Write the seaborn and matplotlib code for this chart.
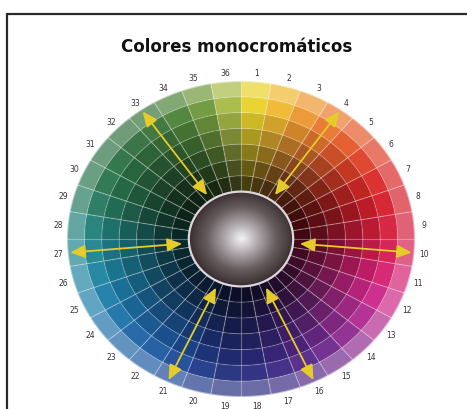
import numpy as np
import matplotlib
matplotlib.use("Agg")
import matplotlib.pyplot as plt
from matplotlib.patches import Wedge, Ellipse, Rectangle, FancyArrowPatch
from matplotlib.colors import to_rgb
import seaborn as sns

# segment numbers (clockwise from the top) and their base colours
segments = list(range(1, 37))
base_colors = [
    "#E8D22A", "#EEB830", "#EC9630", "#E87830", "#E45A2C", "#DE4028",
    "#D82A28", "#D4202C", "#D41E3C", "#D41C52", "#D42070", "#CC2888",
    "#B02C90", "#8E2C90", "#6E2A8C", "#542888", "#3C2A84", "#2C2C80",
    "#24307E", "#203A88", "#1E4C98", "#1E5AA0", "#1E66A4", "#1E72A8",
    "#1E7EA8", "#1E84A0", "#1E8490", "#22807A", "#267A60", "#2A7650",
    "#2E7246", "#347040", "#3C743A", "#4C823A", "#6E983C", "#A8BA48",
]
# ring edges (inner hole -> outer rim) and shade per ring (<0 darker, >0 lighter)
ring_edges = [0.30, 0.40, 0.50, 0.60, 0.70, 0.80, 0.90, 1.00]
ring_shades = [-0.70, -0.57, -0.42, -0.27, -0.12, 0.04, 0.30]
# segments with the double-headed arrows
arrow_segments = [4, 10, 16, 21, 27, 33]

title = "Colores monocromáticos"

W, H = 467, 410
cx, cy, rx, ry = 241, 240, 174, 158

sns.set_theme(style="white")
fig = plt.figure(figsize=(W / 100, H / 100), dpi=100)
fig.patch.set_facecolor("white")
ax = fig.add_axes([0, 0, 1, 1])
ax.set_xlim(-cx / rx, (W - cx) / rx)
ax.set_ylim((cy - H) / ry, cy / ry)
ax.axis("off")


def shade(c, f):
    c = np.array(to_rgb(c))
    if f < 0:
        return c * (1 + f)
    return c + (1 - c) * f


def seg_angle(i):
    return 90 - (i - 0.5) * 10


for i, col in zip(segments, base_colors):
    a = seg_angle(i)
    for k in range(len(ring_shades)):
        r0, r1 = ring_edges[k], ring_edges[k + 1]
        ax.add_patch(Wedge((0, 0), r1, a - 5, a + 5, width=r1 - r0,
                           facecolor=shade(col, ring_shades[k]),
                           edgecolor="none", lw=0))

# light separator lines
for i in segments:
    t = np.deg2rad(seg_angle(i) + 5)
    ax.plot([0.30 * np.cos(t), np.cos(t)], [0.30 * np.sin(t), np.sin(t)],
            color="white", alpha=0.32, lw=0.8)
th = np.linspace(0, 2 * np.pi, 400)
for r in ring_edges[1:-1]:
    ax.plot(r * np.cos(th), r * np.sin(th), color="white", alpha=0.2, lw=0.8)
# soft rim
ax.plot(np.cos(th), np.sin(th), color="white", alpha=0.5, lw=1.5)

# central sphere
cmap = sns.blend_palette(["#f4f4f6", "#aca4a8", "#665c5e", "#3a2e30"], as_cmap=True)
gx, gy = np.meshgrid(np.linspace(-1, 1, 200), np.linspace(-1, 1, 200))
grad = np.sqrt(gx ** 2 + gy ** 2)
im = ax.imshow(grad, cmap=cmap, vmin=0, vmax=1.0, extent=[-0.3, 0.3, -0.3, 0.3],
               origin="lower", aspect="auto", zorder=3)
clip = Ellipse((0, 0), 0.6, 0.6, transform=ax.transData)
im.set_clip_path(clip)
ax.add_patch(Ellipse((0, 0), 0.6, 0.6, fill=False, ec="#dcd8dc", lw=1.6, zorder=4))

# number labels
for i in segments:
    t = np.deg2rad(seg_angle(i))
    ax.text(1.055 * np.cos(t), 1.055 * np.sin(t), str(i), ha="center", va="center",
            fontsize=5.5, color="#3a2c3c")

# arrows
for i in arrow_segments:
    t = np.deg2rad(seg_angle(i))
    ax.add_patch(FancyArrowPatch((0.34 * np.cos(t), 0.34 * np.sin(t)),
                                 (0.985 * np.cos(t), 0.985 * np.sin(t)),
                                 arrowstyle="<|-|>,head_length=0.9,head_width=0.4",
                                 mutation_scale=10, color="#E6CC2A", lw=1.3,
                                 shrinkA=0, shrinkB=0, zorder=5))

fig.text(237 / W, 1 - 47 / H, title, ha="center", va="center",
         fontsize=12, fontweight="bold", color="#111111")
fig.patches.append(Rectangle((7 / W, -0.1), 1.2, 1 - 15 / H + 0.1,
                             transform=fig.transFigure, fill=False,
                             ec="#2a2a2a", lw=1.6))

fig.savefig("out.png", dpi=100)
